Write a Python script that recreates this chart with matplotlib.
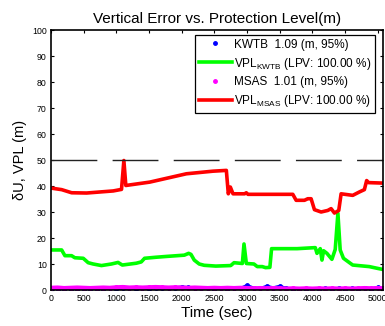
import matplotlib
matplotlib.use("Agg")
import matplotlib.pyplot as plt
from matplotlib.lines import Line2D
import numpy as np

plt.rcParams['font.family'] = ['Liberation Sans', 'DejaVu Sans']
plt.rcParams['mathtext.fontset'] = 'custom'
plt.rcParams['mathtext.rm'] = 'Liberation Sans'
plt.rcParams['mathtext.it'] = 'Liberation Sans:italic'

# ---- data ----
red_t = [0, 163, 316, 545, 748, 952, 1079, 1115, 1145, 1512, 2072, 2479, 2683, 2713, 2744,
         2785, 2963, 2988, 3014, 3700, 3751, 3878, 3929, 3980, 4031, 4133, 4235, 4286,
         4337, 4403, 4439, 4617, 4718, 4795, 4830, 4860, 5100]
red_v = [39.2, 38.6, 37.4, 37.3, 37.7, 38.1, 38.7, 49.8, 40.2, 41.5, 44.7, 45.7, 46.0, 37.0, 39.6,
         37.0, 37.0, 37.4, 36.8, 36.8, 34.5, 34.5, 35.1, 35.1, 30.9, 30.0, 30.6, 31.3,
         29.6, 30.6, 37.0, 36.4, 37.7, 38.6, 42.1, 41.3, 41.1]

green_t = [0, 163, 213, 315, 365, 493, 569, 645, 772, 924, 1026, 1091, 1305, 1381, 1432, 1608,
           1761, 2040, 2106, 2142, 2192, 2268, 2344, 2522, 2750, 2801, 2928, 2953, 2989, 3105,
           3156, 3232, 3283, 3349, 3375, 3766, 4044, 4070, 4120, 4146, 4171, 4222, 4298, 4349,
           4390, 4425, 4475, 4567, 4617, 4870, 5000, 5100]
green_v = [15.4, 15.4, 13.2, 13.2, 12.4, 12.2, 10.5, 10.0, 9.4, 10.0, 10.6, 9.6, 10.3, 10.8, 12.2,
           12.6, 12.9, 13.4, 14.1, 13.7, 11.5, 10.0, 9.5, 9.2, 9.4, 10.5, 10.2, 17.7, 10.2, 10.0,
           9.0, 9.0, 8.6, 8.7, 15.9, 15.9, 16.3, 14.1, 15.9, 11.5, 15.1, 14.1, 11.8, 15.6,
           29.5, 15.4, 12.2, 10.5, 9.6, 9.0, 8.3, 7.8]

err_t = list(range(0, 5200, 100))
blue_v = [0.3, 0.4, 0.3, 0.5, 0.4, 0.3, 0.4, 0.5, 0.4, 0.6, 0.5, 0.6, 0.7, 0.5, 0.6, 0.5, 0.7,
          0.6, 0.8, 0.9, 1.2, 1.0, 0.8, 0.7, 0.6, 0.5, 0.6, 0.5, 0.6, 0.7, 1.8, 0.8, 0.6, 1.5,
          0.9, 1.5, 0.7, 0.5, 0.4, 0.5, 0.4, 0.5, 0.6, 0.4, 0.7, 0.5, 0.6, 0.5, 0.6, 0.5, 1.0, 0.6]
mag_v = [0.8, 0.9, 0.7, 0.8, 0.9, 0.8, 0.7, 0.8, 0.9, 0.8, 1.0, 1.1, 0.9, 1.0, 0.9, 1.0, 1.1,
         1.0, 0.9, 1.0, 0.9, 0.8, 0.9, 0.8, 0.7, 0.8, 0.7, 0.8, 0.7, 0.8, 0.7, 0.6, 0.7, 0.6,
         0.7, 0.6, 0.5, 0.6, 0.5, 0.6, 0.5, 0.6, 0.5, 0.6, 0.5, 0.6, 0.5, 0.6, 0.7, 0.6, 0.7, 0.6]

alert_limit = 50
labels = ['KWTB  1.09 (m, 95%)', 'VPL$_{\\mathrm{KWTB}}$ (LPV: 100.00 %)',
          'MSAS  1.01 (m, 95%)', 'VPL$_{\\mathrm{MSAS}}$ (LPV: 100.00 %)']

W, H = 385, 326
fig = plt.figure(figsize=(W / 100, H / 100), dpi=100)
ax = fig.add_axes([51 / W, 1 - 290 / H, (383 - 51) / W, (290 - 30) / H])

ax.plot(err_t, blue_v, '.', color='#0000ff', ms=5, ls='-', lw=2.0)
ax.plot(green_t, green_v, color='#00ff00', lw=2.6)
ax.plot(err_t, mag_v, '.', color='#ff00ff', ms=5, ls='-', lw=3.2)
ax.plot(red_t, red_v, color='#ff0000', lw=2.6)
hl, = ax.plot([0, 5100], [alert_limit, alert_limit], color='#222222', lw=1.0)
hl.set_dashes((33, 11))

ax.set_xlim(0, 5080)
ax.set_ylim(0, 100)
ax.set_xticks(np.arange(0, 5001, 500))
ax.set_yticks(np.arange(0, 101, 10))
ax.tick_params(direction='in', length=2.5, width=0.8, labelsize=6.3, top=True, right=True, pad=3)
for s in ax.spines.values():
    s.set_linewidth(1.2)

ax.set_title('Vertical Error vs. Protection Level(m)', fontsize=11, pad=5)
ax.set_xlabel('Time (sec)', fontsize=11, labelpad=2)
ax.set_ylabel('\u03b4U, VPL (m)', fontsize=10.5, labelpad=4)

handles = [Line2D([], [], marker='.', ls='none', color='#0000ff', ms=5),
           Line2D([], [], color='#00ff00', lw=2.6),
           Line2D([], [], marker='.', ls='none', color='#ff00ff', ms=5),
           Line2D([], [], color='#ff0000', lw=2.6)]
leg = ax.legend(handles, labels, loc='upper right',
                bbox_to_anchor=(375 / W, 1 - 35 / H), bbox_transform=fig.transFigure,
                borderaxespad=0, fontsize=8.5, handlelength=2.8, handletextpad=0.2,
                fancybox=False, framealpha=1, edgecolor='black', labelspacing=0.42,
                borderpad=0.3)
leg.get_frame().set_linewidth(0.9)

fig.savefig('out.png', dpi=100)
